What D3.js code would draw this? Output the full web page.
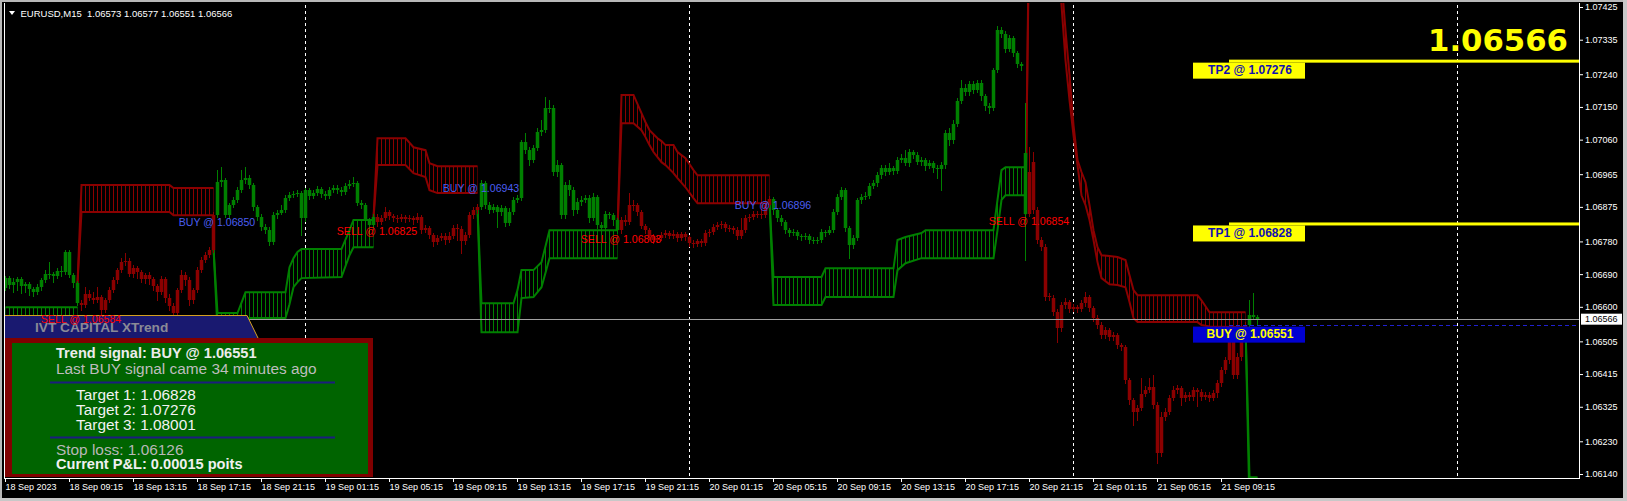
<!DOCTYPE html>
<html><head><meta charset="utf-8">
<script src="https://cdn.jsdelivr.net/npm/d3@7"></script>
<style>
html,body{margin:0;padding:0;background:#000;overflow:hidden}
svg{display:block}
</style></head><body>
<svg id="chart" width="1627" height="501"></svg>
<script>
// ---------------- DATA ----------------
const symbolTitle = "EURUSD,M15";
// 15-minute bars, bar 0 = 18 Sep 2023 05:15
const opens = [
1.06651,1.06679,1.06660,1.06668,1.06676,1.06657,1.06662,1.06649,1.06640,1.06654,
1.06673,1.06690,1.06690,1.06684,1.06698,1.06695,1.06751,1.06687,1.06665,1.06610,
1.06605,1.06635,1.06624,1.06618,1.06627,1.06591,1.06618,1.06646,1.06673,1.06701,
1.06723,1.06726,1.06690,1.06706,1.06695,1.06676,1.06687,1.06676,1.06657,1.06640,
1.06676,1.06624,1.06602,1.06583,1.06646,1.06687,1.06673,1.06618,1.06646,1.06701,
1.06729,1.06742,1.06756,1.06852,1.06943,1.06949,1.06852,1.06880,1.06894,1.06921,
1.06949,1.06954,1.06935,1.06874,1.06847,1.06819,1.06811,1.06778,1.06852,1.06858,
1.06866,1.06899,1.06907,1.06910,1.06913,1.06844,1.06921,1.06905,1.06913,1.06924,
1.06910,1.06905,1.06921,1.06927,1.06921,1.06916,1.06932,1.06938,1.06940,1.06885,
1.06880,1.06839,1.06825,1.06847,1.06833,1.06844,1.06861,1.06850,1.06844,1.06841,
1.06847,1.06841,1.06844,1.06839,1.06847,1.06811,1.06817,1.06797,1.06778,1.06789,
1.06795,1.06784,1.06795,1.06817,1.06814,1.06781,1.06797,1.06852,1.06866,1.06874,
1.06940,1.06880,1.06866,1.06874,1.06861,1.06872,1.06830,1.06861,1.06894,1.06899,
1.07053,1.07031,1.07004,1.07037,1.07081,1.07086,1.07147,1.07147,1.06971,1.06990,
1.06852,1.06935,1.06921,1.06866,1.06888,1.06894,1.06899,1.06844,1.06902,1.06825,
1.06817,1.06855,1.06852,1.06839,1.06811,1.06839,1.06833,1.06880,1.06880,1.06861,
1.06822,1.06811,1.06795,1.06784,1.06789,1.06797,1.06803,1.06795,1.06800,1.06789,
1.06800,1.06792,1.06775,1.06773,1.06781,1.06775,1.06803,1.06806,1.06819,1.06825,
1.06828,1.06817,1.06817,1.06811,1.06795,1.06811,1.06844,1.06847,1.06855,1.06855,
1.06852,1.06880,1.06896,1.06866,1.06844,1.06833,1.06811,1.06803,1.06806,1.06795,
1.06792,1.06795,1.06784,1.06781,1.06784,1.06806,1.06803,1.06811,1.06861,1.06902,
1.06921,1.06817,1.06770,1.06789,1.06894,1.06902,1.06905,1.06932,1.06940,1.06962,
1.06982,1.06971,1.06982,1.06973,1.07004,1.07009,1.06995,1.07026,1.07017,1.06998,
1.07004,1.06987,1.06995,1.06982,1.06979,1.06990,1.07078,1.07059,1.07103,1.07166,
1.07202,1.07191,1.07213,1.07196,1.07216,1.07180,1.07152,1.07147,1.07251,1.07361,
1.07350,1.07309,1.07339,1.07298,1.07268,1.07023,1.06855,1.06998,1.06866,1.06784,
1.06764,1.06627,1.06624,1.06585,1.06541,1.06605,1.06613,1.06594,1.06599,1.06594,
1.06610,1.06627,1.06596,1.06569,1.06550,1.06522,1.06536,1.06517,1.06522,1.06495,
1.06489,1.06398,1.06343,1.06310,1.06321,1.06360,1.06371,1.06379,1.06329,1.06197,
1.06296,1.06310,1.06349,1.06371,1.06376,1.06349,1.06357,1.06351,1.06371,1.06365,
1.06351,1.06357,1.06349,1.06362,1.06390,1.06426,1.06453,1.06503,1.06412,1.06461,
1.06541,1.06550,1.06577,1.06573];
const highs = [
1.06684,1.06684,1.06679,1.06682,1.06682,1.06668,1.06668,1.06654,1.06662,1.06679,
1.06701,1.06723,1.06695,1.06706,1.06712,1.06756,1.06756,1.06693,1.06671,1.06618,
1.06654,1.06646,1.06640,1.06654,1.06632,1.06624,1.06654,1.06682,1.06706,1.06734,
1.06748,1.06734,1.06715,1.06712,1.06701,1.06693,1.06695,1.06682,1.06662,1.06684,
1.06682,1.06635,1.06610,1.06651,1.06701,1.06695,1.06682,1.06651,1.06709,1.06737,
1.06751,1.06764,1.06861,1.06976,1.06984,1.06954,1.06885,1.06902,1.06929,1.06976,
1.06984,1.06962,1.06940,1.06880,1.06855,1.06828,1.06819,1.06861,1.06866,1.06880,
1.06907,1.06916,1.06918,1.06921,1.06918,1.06927,1.06927,1.06921,1.06932,1.06929,
1.06918,1.06929,1.06935,1.06935,1.06929,1.06940,1.06949,1.06957,1.06946,1.06894,
1.06885,1.06844,1.06855,1.06855,1.06852,1.06874,1.06866,1.06855,1.06852,1.06855,
1.06852,1.06852,1.06850,1.06858,1.06852,1.06825,1.06822,1.06803,1.06797,1.06803,
1.06803,1.06806,1.06825,1.06828,1.06822,1.06806,1.06861,1.06874,1.06883,1.06949,
1.06946,1.06888,1.06883,1.06880,1.06880,1.06877,1.06872,1.06902,1.06907,1.07059,
1.07078,1.07039,1.07045,1.07092,1.07114,1.07177,1.07169,1.07155,1.07004,1.06995,
1.06943,1.06949,1.06929,1.06899,1.06905,1.06907,1.06907,1.06913,1.06907,1.06833,
1.06863,1.06861,1.06858,1.06844,1.06847,1.06852,1.06913,1.06894,1.06885,1.06866,
1.06828,1.06817,1.06800,1.06797,1.06806,1.06811,1.06808,1.06811,1.06806,1.06806,
1.06806,1.06797,1.06784,1.06786,1.06786,1.06811,1.06814,1.06828,1.06833,1.06836,
1.06833,1.06825,1.06822,1.06819,1.06844,1.06852,1.06855,1.06863,1.06863,1.06880,
1.06888,1.06905,1.06902,1.06872,1.06852,1.06839,1.06817,1.06814,1.06811,1.06800,
1.06803,1.06800,1.06792,1.06792,1.06814,1.06811,1.06822,1.06869,1.06910,1.06929,
1.06927,1.06822,1.06797,1.06899,1.06910,1.06916,1.06940,1.06949,1.06971,1.06990,
1.06990,1.06995,1.06987,1.07012,1.07020,1.07031,1.07034,1.07031,1.07026,1.07012,
1.07009,1.07004,1.07001,1.06990,1.06998,1.07086,1.07092,1.07114,1.07174,1.07224,
1.07213,1.07221,1.07221,1.07224,1.07224,1.07185,1.07161,1.07257,1.07372,1.07370,
1.07359,1.07348,1.07345,1.07304,1.07273,1.07161,1.07039,1.07026,1.06874,1.06792,
1.06773,1.06638,1.06632,1.06594,1.06613,1.06624,1.06618,1.06607,1.06605,1.06618,
1.06640,1.06632,1.06602,1.06577,1.06558,1.06544,1.06541,1.06530,1.06528,1.06500,
1.06495,1.06404,1.06349,1.06329,1.06404,1.06382,1.06404,1.06412,1.06338,1.06310,
1.06321,1.06357,1.06382,1.06385,1.06382,1.06365,1.06365,1.06379,1.06376,1.06373,
1.06365,1.06365,1.06371,1.06398,1.06434,1.06461,1.06514,1.06508,1.06472,1.06550,
1.06558,1.06618,1.06638,1.06577];
const lows = [
1.06646,1.06651,1.06640,1.06646,1.06638,1.06640,1.06632,1.06629,1.06635,1.06646,
1.06668,1.06679,1.06668,1.06679,1.06684,1.06690,1.06682,1.06654,1.06605,1.06591,
1.06599,1.06618,1.06610,1.06613,1.06580,1.06585,1.06613,1.06640,1.06665,1.06695,
1.06715,1.06684,1.06682,1.06679,1.06668,1.06665,1.06662,1.06646,1.06618,1.06635,
1.06613,1.06591,1.06569,1.06577,1.06640,1.06660,1.06605,1.06610,1.06640,1.06695,
1.06723,1.06737,1.06751,1.06847,1.06932,1.06847,1.06844,1.06874,1.06888,1.06916,
1.06940,1.06927,1.06866,1.06839,1.06811,1.06803,1.06770,1.06773,1.06844,1.06855,
1.06861,1.06894,1.06902,1.06905,1.06797,1.06836,1.06896,1.06899,1.06907,1.06902,
1.06896,1.06899,1.06916,1.06913,1.06907,1.06910,1.06927,1.06932,1.06880,1.06872,
1.06830,1.06817,1.06819,1.06822,1.06828,1.06839,1.06841,1.06836,1.06833,1.06836,
1.06833,1.06836,1.06828,1.06833,1.06803,1.06806,1.06789,1.06767,1.06773,1.06784,
1.06773,1.06778,1.06789,1.06784,1.06748,1.06773,1.06792,1.06844,1.06858,1.06869,
1.06872,1.06858,1.06861,1.06819,1.06852,1.06822,1.06825,1.06855,1.06888,1.06894,
1.07023,1.06990,1.06998,1.07031,1.07072,1.07081,1.07136,1.06962,1.06960,1.06844,
1.06844,1.06907,1.06852,1.06858,1.06880,1.06888,1.06833,1.06839,1.06817,1.06811,
1.06808,1.06844,1.06825,1.06803,1.06803,1.06825,1.06828,1.06866,1.06852,1.06817,
1.06803,1.06786,1.06775,1.06778,1.06784,1.06792,1.06789,1.06789,1.06781,1.06784,
1.06784,1.06767,1.06764,1.06767,1.06767,1.06770,1.06795,1.06800,1.06814,1.06817,
1.06808,1.06808,1.06803,1.06786,1.06789,1.06806,1.06836,1.06841,1.06847,1.06844,
1.06847,1.06874,1.06855,1.06836,1.06825,1.06803,1.06795,1.06797,1.06786,1.06784,
1.06786,1.06775,1.06775,1.06775,1.06778,1.06795,1.06800,1.06806,1.06855,1.06896,
1.06808,1.06734,1.06762,1.06784,1.06885,1.06896,1.06899,1.06927,1.06932,1.06954,
1.06962,1.06965,1.06965,1.06968,1.06998,1.06990,1.06987,1.07009,1.06993,1.06990,
1.06976,1.06982,1.06971,1.06954,1.06921,1.06982,1.07045,1.07050,1.07097,1.07161,
1.07183,1.07183,1.07188,1.07191,1.07169,1.07141,1.07133,1.07141,1.07246,1.07342,
1.07301,1.07304,1.07290,1.07260,1.07251,1.06729,1.06850,1.06858,1.06775,1.06756,
1.06618,1.06618,1.06577,1.06503,1.06533,1.06596,1.06585,1.06588,1.06585,1.06588,
1.06602,1.06588,1.06561,1.06541,1.06514,1.06514,1.06508,1.06508,1.06486,1.06481,
1.06390,1.06332,1.06274,1.06288,1.06316,1.06354,1.06365,1.06321,1.06170,1.06189,
1.06288,1.06305,1.06343,1.06362,1.06329,1.06340,1.06343,1.06343,1.06327,1.06343,
1.06346,1.06340,1.06343,1.06351,1.06382,1.06417,1.06445,1.06404,1.06404,1.06453,
1.06533,1.06544,1.06566,1.06551];
const closes = [
1.06679,1.06660,1.06668,1.06676,1.06657,1.06662,1.06649,1.06640,1.06654,1.06673,
1.06690,1.06690,1.06684,1.06698,1.06695,1.06751,1.06687,1.06665,1.06610,1.06605,
1.06635,1.06624,1.06618,1.06627,1.06591,1.06618,1.06646,1.06673,1.06701,1.06723,
1.06726,1.06690,1.06706,1.06695,1.06676,1.06687,1.06676,1.06657,1.06640,1.06676,
1.06624,1.06602,1.06583,1.06646,1.06687,1.06673,1.06618,1.06646,1.06701,1.06729,
1.06742,1.06756,1.06852,1.06943,1.06949,1.06852,1.06880,1.06894,1.06921,1.06949,
1.06954,1.06935,1.06874,1.06847,1.06819,1.06811,1.06778,1.06852,1.06858,1.06866,
1.06899,1.06907,1.06910,1.06913,1.06844,1.06921,1.06905,1.06913,1.06924,1.06910,
1.06905,1.06921,1.06927,1.06921,1.06916,1.06932,1.06938,1.06940,1.06885,1.06880,
1.06839,1.06825,1.06847,1.06833,1.06844,1.06861,1.06850,1.06844,1.06841,1.06847,
1.06841,1.06844,1.06839,1.06847,1.06811,1.06817,1.06797,1.06778,1.06789,1.06795,
1.06784,1.06795,1.06817,1.06814,1.06781,1.06797,1.06852,1.06866,1.06874,1.06940,
1.06880,1.06866,1.06874,1.06861,1.06872,1.06830,1.06861,1.06894,1.06899,1.07053,
1.07031,1.07004,1.07037,1.07081,1.07086,1.07147,1.07147,1.06971,1.06990,1.06852,
1.06935,1.06921,1.06866,1.06888,1.06894,1.06899,1.06844,1.06902,1.06825,1.06817,
1.06855,1.06852,1.06839,1.06811,1.06839,1.06833,1.06880,1.06880,1.06861,1.06822,
1.06811,1.06795,1.06784,1.06789,1.06797,1.06803,1.06795,1.06800,1.06789,1.06800,
1.06792,1.06775,1.06773,1.06781,1.06775,1.06803,1.06806,1.06819,1.06825,1.06828,
1.06817,1.06817,1.06811,1.06795,1.06811,1.06844,1.06847,1.06855,1.06855,1.06852,
1.06880,1.06896,1.06866,1.06844,1.06833,1.06811,1.06803,1.06806,1.06795,1.06792,
1.06795,1.06784,1.06781,1.06784,1.06806,1.06803,1.06811,1.06861,1.06902,1.06921,
1.06817,1.06770,1.06789,1.06894,1.06902,1.06905,1.06932,1.06940,1.06962,1.06982,
1.06971,1.06982,1.06973,1.07004,1.07009,1.06995,1.07026,1.07017,1.06998,1.07004,
1.06987,1.06995,1.06982,1.06979,1.06990,1.07078,1.07059,1.07103,1.07166,1.07202,
1.07191,1.07213,1.07196,1.07216,1.07180,1.07152,1.07147,1.07251,1.07361,1.07350,
1.07309,1.07339,1.07298,1.07268,1.07262,1.06855,1.06971,1.06866,1.06784,1.06764,
1.06627,1.06629,1.06585,1.06541,1.06605,1.06613,1.06594,1.06599,1.06594,1.06610,
1.06627,1.06596,1.06569,1.06550,1.06522,1.06536,1.06517,1.06522,1.06495,1.06489,
1.06398,1.06343,1.06310,1.06321,1.06360,1.06371,1.06379,1.06329,1.06197,1.06296,
1.06310,1.06349,1.06371,1.06376,1.06349,1.06357,1.06351,1.06371,1.06365,1.06351,
1.06357,1.06349,1.06362,1.06390,1.06426,1.06453,1.06503,1.06412,1.06461,1.06541,
1.06550,1.06577,1.06572,1.06566];

// trend signals (bar index, type, price)
const signalBars   = [19, 53, 93, 119, 154, 192, 256, 311];
const signalTypes  = ["SELL","BUY","SELL","BUY","SELL","BUY","SELL","BUY"];
const signalPrices = [1.06584,1.06850,1.06825,1.06943,1.06803,1.06896,1.06854,1.06551];

// trend channel bands (keypoints: bar, upper, lower)
const g1Bars=[0,18], g1Up=[1.06599,1.06599], g1Lo=[1.06574,1.06574];
const r1Bars=[18,19,41,42,52], r1Up=[1.06665,1.06935,1.06935,1.06927,1.06927], r1Lo=[1.06665,1.06861,1.06861,1.06852,1.06852];
const g2Bars=[52,53,58,60,70,71,72,73,74,84,86,87,92];
const g2Up=[1.06762,1.06583,1.06583,1.06640,1.06640,1.06709,1.06734,1.06751,1.06759,1.06759,1.06811,1.06839,1.06839];
const g2Lo=[1.06762,1.06536,1.06536,1.06569,1.06569,1.06607,1.06654,1.06668,1.06679,1.06682,1.06742,1.06764,1.06764];
const r2Bars=[92,93,100,102,105,106,108,118];
const r2Up=[1.06844,1.07064,1.07064,1.07039,1.07031,1.06995,1.06987,1.06987];
const r2Lo=[1.06844,1.06990,1.06990,1.06968,1.06957,1.06921,1.06913,1.06913];
const g3Bars=[118,119,127,128,129,132,134,136,153];
const g3Up=[1.06874,1.06610,1.06610,1.06646,1.06701,1.06701,1.06723,1.06811,1.06811];
const g3Lo=[1.06874,1.06530,1.06530,1.06530,1.06624,1.06627,1.06654,1.06734,1.06734];
const r3Bars=[153,154,157,159,160,161,162,163,164,165,167,168,170,172,173,191];
const r3Up=[1.06811,1.07183,1.07183,1.07133,1.07108,1.07086,1.07075,1.07064,1.07056,1.07045,1.07045,1.07026,1.07009,1.06976,1.06962,1.06962];
const r3Lo=[1.06811,1.07105,1.07105,1.07086,1.07067,1.07045,1.07026,1.07012,1.06998,1.06990,1.06968,1.06954,1.06929,1.06899,1.06885,1.06885];
const g4Bars=[191,192,204,205,222,223,225,229,230,247,248,249,250,255];
const g4Up=[1.06894,1.06682,1.06682,1.06706,1.06706,1.06784,1.06792,1.06803,1.06811,1.06811,1.06894,1.06976,1.06984,1.06984];
const g4Lo=[1.06894,1.06605,1.06605,1.06627,1.06627,1.06701,1.06720,1.06734,1.06734,1.06734,1.06811,1.06894,1.06907,1.06907];
const r4Bars=[255,256,263,264,265,266,267,268,269,270,271,272,273,274,276,278,280,281,282,283,298,299,301,310];
const r4Up=[1.06855,1.07750,1.07600,1.07499,1.07361,1.07238,1.07100,1.07004,1.06971,1.06943,1.06880,1.06811,1.06764,1.06742,1.06740,1.06737,1.06729,1.06687,1.06646,1.06632,1.06632,1.06618,1.06585,1.06585];
const r4Lo=[1.06855,1.07700,1.07550,1.07430,1.07279,1.07169,1.07072,1.06990,1.06907,1.06880,1.06839,1.06784,1.06723,1.06679,1.06662,1.06660,1.06654,1.06613,1.06569,1.06558,1.06558,1.06550,1.06546,1.06544];
const g5Bars=[310,311,313], g5Up=[1.06550,1.06131,1.06131], g5Lo=[1.06550,1.06050,1.06050];

// targets / panel info
const tpNames  = ["TP2","TP1"];
const tpPrices = [1.07276, 1.06828];
const entryType = "BUY", entryPrice = 1.06551;
const panelTargets = [1.06828, 1.07276, 1.08001];
const stopLoss = 1.06126, pnlPoints = 0.00015, minutesAgo = 34;
const panelTitle = "IVT CAPITAL XTrend";

// axes
const priceTicks = [1.07425,1.07335,1.07240,1.07150,1.07060,1.06965,1.06875,1.06780,1.06690,1.06600,1.06505,1.06415,1.06325,1.06230,1.06140];
const timeTickBars = [0,16,32,48,64,80,96,112,128,144,160,176,192,208,224,240,256,272,288,304];
const timeLabels = ["18 Sep 2023","18 Sep 09:15","18 Sep 13:15","18 Sep 17:15","18 Sep 21:15","19 Sep 01:15","19 Sep 05:15","19 Sep 09:15","19 Sep 13:15","19 Sep 17:15","19 Sep 21:15","20 Sep 01:15","20 Sep 05:15","20 Sep 09:15","20 Sep 13:15","20 Sep 17:15","20 Sep 21:15","21 Sep 01:15","21 Sep 05:15","21 Sep 09:15"];
const daySeparatorBars = [75, 171, 267, 363];

// ---------------- DRAW ----------------
const W = 1627, Hh = 501;
const GREEN = "#008000", RED = "#8b0000";
const FONT = "'Liberation Sans', Arial, sans-serif";
const plot = {left:4, right:1579, top:3, bottom:478};
const svg = d3.select("#chart");
const x = d3.scaleLinear().domain([0, 1]).range([5, 9]);
const y = d3.scaleLinear().domain([1.06140, 1.07425]).range([474, 7]);
const fmt = d3.format(".5f");
const n = closes.length, last = n - 1;

svg.append("rect").attr("width", W).attr("height", Hh).attr("fill", "#000");
const defs = svg.append("defs");
defs.append("clipPath").attr("id","plotClip").append("rect")
  .attr("x", plot.left+1).attr("y", plot.top).attr("width", plot.right-plot.left-1).attr("height", plot.bottom-plot.top);
function hatch(id, color){
  const p = defs.append("pattern").attr("id", id).attr("patternUnits","userSpaceOnUse")
    .attr("x", x(0)).attr("y", 0).attr("width", x(1)-x(0)).attr("height", Hh);
  p.append("rect").attr("x",0).attr("y",0).attr("width",1).attr("height",Hh).attr("fill",color);
}
hatch("hatchBUY", GREEN); hatch("hatchSELL", RED);

const plotG = svg.append("g").attr("clip-path","url(#plotClip)");

// day separators
plotG.selectAll("line.sep").data(daySeparatorBars).join("line").attr("class","sep")
  .attr("x1", d=>x(d)+0.5).attr("x2", d=>x(d)+0.5).attr("y1", plot.top+2).attr("y2", plot.bottom)
  .attr("stroke","#fff").attr("stroke-dasharray","3,3").attr("shape-rendering","crispEdges");

// bands
const bands = [
  ["BUY", g1Bars, g1Up, g1Lo], ["SELL", r1Bars, r1Up, r1Lo],
  ["BUY", g2Bars, g2Up, g2Lo], ["SELL", r2Bars, r2Up, r2Lo],
  ["BUY", g3Bars, g3Up, g3Lo], ["SELL", r3Bars, r3Up, r3Lo],
  ["BUY", g4Bars, g4Up, g4Lo], ["SELL", r4Bars, r4Up, r4Lo],
  ["BUY", g5Bars, g5Up, g5Lo]
];
const bandG = plotG.append("g");
bands.forEach(([type, bars, up, lo]) => {
  const pts = bars.map((b,k)=>({b, up:up[k], lo:lo[k]}));
  const col = type==="BUY" ? GREEN : RED;
  bandG.append("path").datum(pts)
    .attr("d", d3.area().x(d=>x(d.b)+0.5).y0(d=>y(d.lo)).y1(d=>y(d.up)))
    .attr("fill", `url(#hatch${type})`);
  ["up","lo"].forEach(k => {
    bandG.append("path").datum(pts)
      .attr("d", d3.line().x(d=>x(d.b)+0.5).y(d=>y(d[k])))
      .attr("fill","none").attr("stroke",col).attr("stroke-width",2);
  });
});

// candles colored by trend
function trendAt(i){ let t="BUY"; for(let k=0;k<signalBars.length;k++){ if(signalBars[k]<=i) t=signalTypes[k]; } return t; }
const idx = d3.range(n);
const candleG = plotG.append("g");
candleG.selectAll("line").data(idx).join("line")
  .attr("x1", i=>x(i)+0.5).attr("x2", i=>x(i)+0.5)
  .attr("y1", i=>Math.round(y(highs[i]))).attr("y2", i=>Math.round(y(lows[i]))+1)
  .attr("stroke", i=>trendAt(i)==="BUY"?GREEN:RED).attr("shape-rendering","crispEdges");
candleG.selectAll("rect").data(idx).join("rect")
  .attr("x", i=>x(i)-1.25).attr("width", 3.5)
  .attr("y", i=>Math.round(y(Math.max(opens[i],closes[i]))))
  .attr("height", i=>Math.max(1, Math.round(y(Math.min(opens[i],closes[i]))) - Math.round(y(Math.max(opens[i],closes[i])))))
  .attr("fill", i=>trendAt(i)==="BUY"?GREEN:RED);

// current price line
svg.append("line").attr("x1", plot.left+1).attr("x2", plot.right).attr("y1", Math.round(y(closes[last]))+0.5).attr("y2", Math.round(y(closes[last]))+0.5)
  .attr("stroke","#a0a0a0").attr("stroke-width",1);

// entry dashed line
const entryX = x(306);
svg.append("line").attr("x1", entryX).attr("x2", plot.right).attr("y1", Math.round(y(entryPrice))+0.5).attr("y2", Math.round(y(entryPrice))+0.5)
  .attr("stroke","#2020d0").attr("stroke-dasharray","4,3");

// big price
svg.append("text").attr("x", 1568).attr("y", 51).attr("text-anchor","end")
  .attr("fill","#ffff00").style("font","bold 31px 'DejaVu Sans', sans-serif")
  .attr("textLength", 140).attr("lengthAdjust","spacingAndGlyphs")
  .text(fmt(closes[last]));

// panel header
const panel = svg.append("g");
panel.append("polygon").attr("points", "5,315 247,315 258,338 5,338").attr("fill","#191970");
panel.append("polyline").attr("points", "5,315.5 247,315.5 258,338").attr("fill","none").attr("stroke","#d4a020").attr("stroke-width",1);
panel.append("text").attr("x", 35).attr("y", 332).attr("fill","#8a8a96")
  .style("font", `bold 13.7px ${FONT}`).text(panelTitle);
panel.append("rect").attr("x",5).attr("y",338).attr("width",368).attr("height",139).attr("fill","#800000");
panel.append("rect").attr("x",12).attr("y",343).attr("width",356).attr("height",131).attr("fill","#006400");
const lines = [
  {t:`Trend signal: ${entryType} @ ${fmt(entryPrice)}`, x:56, y:358, w:"bold", s:14.6, c:"#ececec"},
  {t:`Last ${entryType} signal came ${minutesAgo} minutes ago`, x:56, y:374, w:"normal", s:15.4, c:"#bdbdbd"},
  {t:`Target 1: ${fmt(panelTargets[0])}`, x:76, y:400, w:"normal", s:15.4, c:"#f2f2f2"},
  {t:`Target 2: ${fmt(panelTargets[1])}`, x:76, y:414.5, w:"normal", s:15.4, c:"#f2f2f2"},
  {t:`Target 3: ${fmt(panelTargets[2])}`, x:76, y:429.5, w:"normal", s:15.4, c:"#f2f2f2"},
  {t:`Stop loss: ${fmt(stopLoss)}`, x:56, y:455, w:"normal", s:15.4, c:"#b8b8b8"},
  {t:`Current P&L: ${fmt(pnlPoints)} poits`, x:56, y:468.5, w:"bold", s:14.6, c:"#f0f0f0"}
];
panel.selectAll("text.info").data(lines).join("text").attr("class","info")
  .attr("x", d=>d.x).attr("y", d=>d.y).attr("fill", d=>d.c)
  .style("font", d=>`${d.w} ${d.s}px ${FONT}`).text(d=>d.t);
[382.5, 437.5].forEach(yy => panel.append("line").attr("x1",50).attr("x2",335).attr("y1",yy).attr("y2",yy)
  .attr("stroke","#1c1c80").attr("stroke-width",2));

// signal labels (the latest signal is shown in the entry box instead)
const labelData = signalBars.map((b,k)=>({b, t:signalTypes[k], p:signalPrices[k]}))
  .filter(d => !(d.t===entryType && d.p===entryPrice));
svg.append("g").selectAll("text").data(labelData).join("text")
  .attr("x", d=>x(d.b)).attr("y", d=>y(d.p)+10).attr("text-anchor","middle")
  .attr("fill", d=>d.t==="BUY" ? "#4a5ef0" : "#ff0000")
  .style("font", `10.6px ${FONT}`).text(d=>`${d.t} @ ${fmt(d.p)}`);

// TP lines & boxes
const boxX = x(297), boxW = 112;
tpPrices.forEach((p,k) => {
  const yy = y(p);
  svg.append("rect").attr("x", entryX).attr("y", yy-1.5).attr("width", plot.right-entryX).attr("height",3).attr("fill","#ffff00");
  svg.append("rect").attr("x", boxX).attr("y", yy+1.5).attr("width", boxW).attr("height", 16).attr("fill","#ffff00");
  svg.append("text").attr("x", boxX+boxW/2+1).attr("y", yy+13).attr("text-anchor","middle")
    .attr("fill","#1010b0").style("font", `bold 12px ${FONT}`).text(`${tpNames[k]} @ ${fmt(p)}`);
});
// entry box
{
  const yy = y(entryPrice);
  svg.append("rect").attr("x", boxX).attr("y", yy+2).attr("width", boxW).attr("height", 16).attr("fill","#0000d0");
  svg.append("text").attr("x", boxX+boxW/2+1).attr("y", yy+13.5).attr("text-anchor","middle")
    .attr("fill","#ffff00").style("font", `bold 12px ${FONT}`).text(`${entryType} @ ${fmt(entryPrice)}`);
}

// title
svg.append("polygon").attr("points","9,11 15,11 12,15").attr("fill","#fff");
svg.append("text").attr("x", 20.5).attr("y", 16.5).attr("fill","#fff").style("font", `9.5px ${FONT}`).style("white-space","pre")
  .text(`${symbolTitle}  ${fmt(opens[last])} ${fmt(highs[last])} ${fmt(lows[last])} ${fmt(closes[last])}`);

// axes
const yAxis = d3.axisRight(y).tickValues(priceTicks).tickFormat(fmt).tickSize(4).tickPadding(2);
const gy = svg.append("g").attr("transform", `translate(${plot.right},0)`).call(yAxis);
gy.select(".domain").remove();
gy.attr("font-family", FONT).attr("font-size", 9);
gy.selectAll("line").attr("stroke","#fff");
gy.selectAll("text").attr("fill","#fff");

const xAxis = d3.axisBottom(x).tickValues(timeTickBars).tickFormat((d,i)=>timeLabels[i]).tickSize(4).tickPadding(2);
const gx = svg.append("g").attr("transform", `translate(0,${plot.bottom})`).call(xAxis);
gx.select(".domain").remove();
gx.attr("font-family", FONT).attr("font-size", 9);
gx.selectAll("line").attr("stroke","#fff");
gx.selectAll("text").attr("fill","#fff").attr("text-anchor","start").attr("x", 0);

// current price tag on axis
svg.append("rect").attr("x", plot.right+2).attr("y", y(closes[last])-5.5).attr("width", 41).attr("height", 11).attr("fill","#fff");
svg.append("text").attr("x", plot.right+6).attr("y", y(closes[last])+3.3).attr("fill","#000")
  .style("font", `9px ${FONT}`).text(fmt(closes[last]));

// frame
const fr = svg.append("g").attr("shape-rendering","crispEdges");
fr.append("line").attr("x1", plot.left+0.5).attr("x2", plot.left+0.5).attr("y1", plot.top).attr("y2", plot.bottom).attr("stroke","#fff");
fr.append("line").attr("x1", plot.left).attr("x2", plot.right+1).attr("y1", plot.bottom+0.5).attr("y2", plot.bottom+0.5).attr("stroke","#fff");
fr.append("line").attr("x1", plot.right+0.5).attr("x2", plot.right+0.5).attr("y1", plot.top).attr("y2", plot.bottom+1).attr("stroke","#fff");
fr.append("rect").attr("x",0).attr("y",0).attr("width",W).attr("height",2).attr("fill","#b8b8b8");
fr.append("rect").attr("x",0).attr("y",0).attr("width",2).attr("height",Hh).attr("fill","#b8b8b8");
fr.append("rect").attr("x",1623).attr("y",0).attr("width",4).attr("height",Hh).attr("fill","#c8c8c8");
fr.append("rect").attr("x",0).attr("y",498).attr("width",W).attr("height",3).attr("fill","#c8c8c8");
</script>
</body></html>
